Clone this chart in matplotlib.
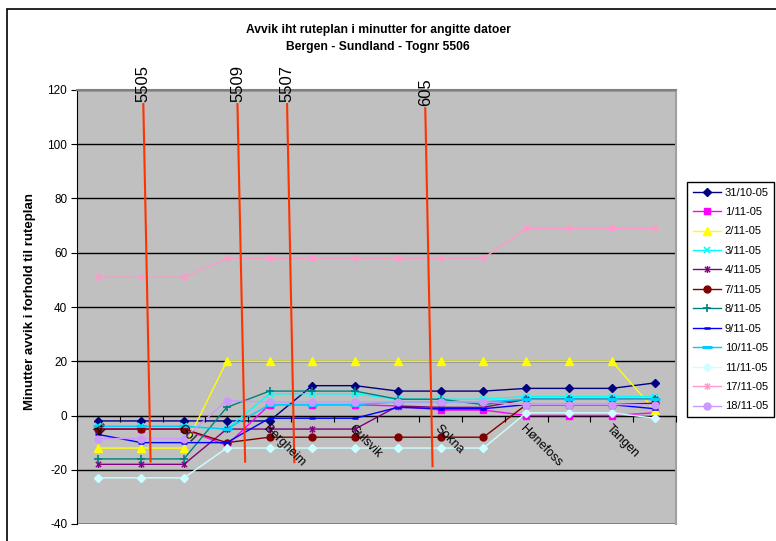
import numpy as np
import matplotlib
matplotlib.use('Agg')
import matplotlib.pyplot as plt
from matplotlib.patches import Rectangle
from matplotlib.path import Path

plt.rcParams['font.family'] = ['Liberation Sans', 'DejaVu Sans']
plt.rcParams['axes.unicode_minus'] = False

# ---- data ----
categories = ['Ål', 'Ål', 'Gol', 'Gol', 'Bergheim', 'Bergheim', 'Gulsvik', 'Gulsvik',
              'Sokna', 'Sokna', 'Hønefoss', 'Hønefoss', 'Tangen', 'Tangen']
series_names = ['31/10-05', '1/11-05', '2/11-05', '3/11-05', '4/11-05', '7/11-05',
                '8/11-05', '9/11-05', '10/11-05', '11/11-05', '17/11-05', '18/11-05']
d_31_10 = [-2, -2, -2, -2, -2, 11, 11, 9, 9, 9, 10, 10, 10, 12]
d_01_11 = [-5, -5, -5, -11, 4, 4, 4, 3.5, 2, 2, 0, 0, 0, 1]
d_02_11 = [-12, -12, -12, 20, 20, 20, 20, 20, 20, 20, 20, 20, 20, 2]
d_03_11 = [-4, -4, -4, -5, 8, 8, 8, 6, 6, 6, 7, 7, 7, 7]
d_04_11 = [-18, -18, -18, -5, -5, -5, -5, 3.5, 3, 3, 6, 6, 6, 6]
d_07_11 = [-5, -5, -5, -10, -8, -8, -8, -8, -8, -8, 4, 4, 4, 4.5]
d_08_11 = [-16, -16, -16, 3, 9, 9, 9, 6, 6, 4, 6, 6, 6, 6]
d_09_11 = [-7, -10, -10, -10, -1, -1, -1, 3, 2.5, 2.5, 4, 4, 4, 2.5]
d_10_11 = [-4, -4, -4, -5, 4, 4, 4, 5, 5, 5, 6, 6, 6, 6]
d_11_11 = [-23, -23, -23, -12, -12, -12, -12, -12, -12, -12, 1, 1, 1, -1]
d_17_11 = [51, 51, 51, 58, 58, 58, 58, 58, 58, 58, 69, 69, 69, 69]
d_18_11 = [-8.5, -8.5, -8.5, 5.5, 5, 5, 5, 5, 5, 5, 4, 4, 4, 4]
series_values = [d_31_10, d_01_11, d_02_11, d_03_11, d_04_11, d_07_11,
                 d_08_11, d_09_11, d_10_11, d_11_11, d_17_11, d_18_11]

# train annotations (drawn shapes): label, x top/bottom (category units), y top/bottom (minutes)
train_labels = ['5505', '5509', '5507', '605']
train_x_top = [1.05, 3.25, 4.41, 7.64]
train_x_bot = [1.22, 3.43, 4.58, 7.81]
train_y_top = [114.8, 114.8, 114.8, 113.3]
train_y_bot = [-17.0, -17.0, -17.2, -18.7]

# ---- styles ----
ast = Path([(-1, -1), (1, 1), (-1, 1), (1, -1), (0, -1.3), (0, 1.3)],
           [Path.MOVETO, Path.LINETO, Path.MOVETO, Path.LINETO, Path.MOVETO, Path.LINETO])
styles = [
    dict(color='#000080', marker='D', ms=4.5),
    dict(color='#FF00FF', marker='s', ms=4.5),
    dict(color='#FFFF00', marker='^', ms=6),
    dict(color='#00FFFF', marker='x', ms=5, mew=1.2),
    dict(color='#800080', marker=ast, ms=5, mew=1.0),
    dict(color='#800000', marker='o', ms=5),
    dict(color='#008080', marker='+', ms=6, mew=1.2),
    dict(color='#0000FF', marker='_', ms=4, mew=1.8),
    dict(color='#00CCFF', marker='_', ms=7, mew=2.2),
    dict(color='#CCFFFF', marker='D', ms=4.5),
    dict(color='#FF99CC', marker=ast, ms=5, mew=1.0),
    dict(color='#CC99FF', marker='o', ms=5),
]

W, H = 776, 541
fig = plt.figure(figsize=(W / 100, H / 100), dpi=100)
ax = fig.add_axes([77 / W, 1 - 524 / H, 599 / W, 434 / H])
ax.set_facecolor('#C0C0C0')

x = np.arange(len(categories))
for name, vals, st in zip(series_names, series_values, styles):
    ax.plot(x, vals, color=st['color'], lw=1.0, marker=st['marker'], ms=st['ms'],
            mfc=st['color'], mec=st['color'], mew=st.get('mew', 1.0), label=name, zorder=3)

ax.set_xlim(-0.5, len(categories) - 0.5)
ax.set_ylim(-40, 120)
ax.set_yticks(np.arange(-40, 121, 20))
ax.yaxis.grid(True, color='black', lw=1.0)
ax.set_axisbelow(True)
ax.axhline(-40, color='#808080', lw=2, zorder=2)

ax.spines['bottom'].set_position(('data', 0))
ax.spines['bottom'].set_color('black')
ax.spines['left'].set_color('black')
ax.spines['top'].set_color('#808080')
ax.spines['top'].set_linewidth(1.5)
ax.spines['right'].set_color('#A0A0A0')
ax.spines['right'].set_linewidth(1.5)

ax.set_xticks(np.arange(-0.5, len(categories), 1))
ax.tick_params(axis='x', which='major', length=4, direction='out', labelbottom=False, color='black')
ax.set_xticks(x[::2], categories[::2], minor=True)
ax.tick_params(axis='x', which='minor', length=0, pad=5, labelsize=9)
for lbl in ax.get_xticklabels(minor=True):
    lbl.set_rotation(-45)
    lbl.set_ha('left')
    lbl.set_rotation_mode('anchor')
ax.xaxis.set_zorder(7)
ax.tick_params(axis='y', length=4, direction='out', labelsize=8.5, pad=3)

for lab, xt, xb, yt, yb in zip(train_labels, train_x_top, train_x_bot, train_y_top, train_y_bot):
    ax.plot([xt, xb], [yt, yb], color='#FF3300', lw=1.5, clip_on=False, zorder=6)
    ax.text(xt, yt + 0.8, lab, rotation=90, ha='center', va='bottom', fontsize=12,
            clip_on=False, zorder=6)

fig.text(378 / W, 1 - 30 / H, 'Avvik iht ruteplan i minutter for angitte datoer',
         ha='center', va='center', fontsize=8.7, weight='bold')
fig.text(378 / W, 1 - 47 / H, 'Bergen - Sundland - Tognr 5506',
         ha='center', va='center', fontsize=8.7, weight='bold')
fig.text(30 / W, 1 - 302 / H, 'Minutter avvik i forhold til ruteplan', rotation=90,
         ha='center', va='center', fontsize=9.5, weight='bold')

leg = fig.legend(loc='upper left', bbox_to_anchor=(687 / W, 1 - 182 / H), fontsize=8,
                 labelspacing=0.85, handlelength=2.6, handletextpad=0.3, borderpad=0.5,
                 borderaxespad=0, fancybox=False, framealpha=1, edgecolor='black')
leg.get_frame().set_linewidth(1.0)

fig.patches.append(Rectangle((7 / W, -0.1), 1.2, 1.1 - 9 / H, transform=fig.transFigure,
                             fill=False, ec='black', lw=1.2))

fig.savefig('out.png', dpi=100)
